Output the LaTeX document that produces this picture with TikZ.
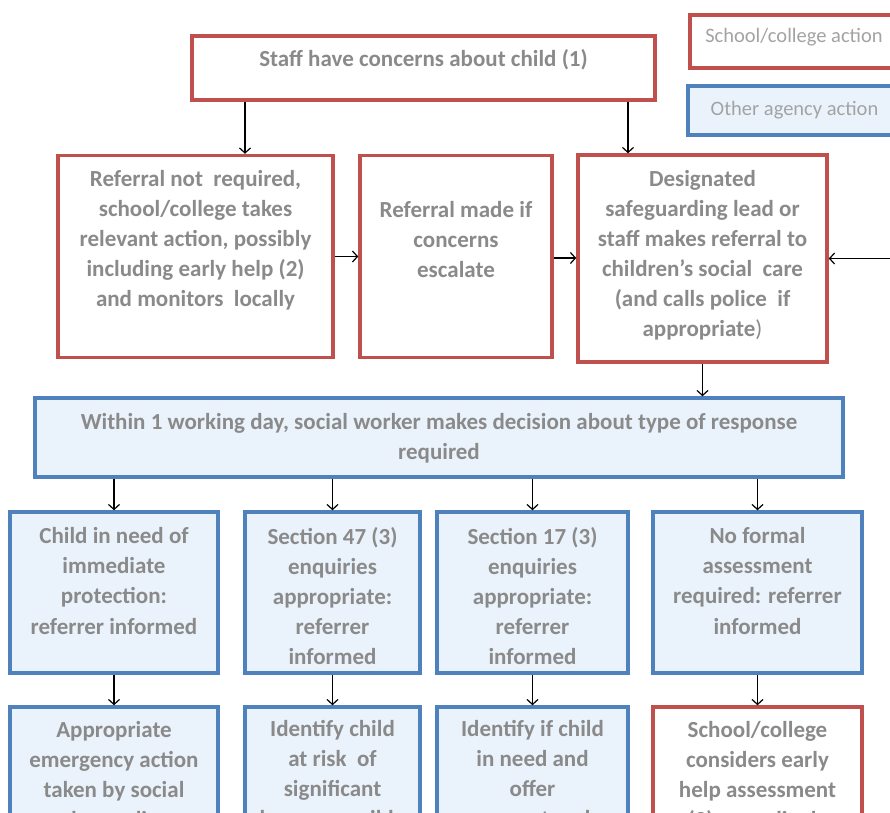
\documentclass[tikz,border=0pt]{standalone}
\usepackage{fontspec}
\setmainfont{Carlito}
\usetikzlibrary{arrows.meta}
\definecolor{schoolred}{HTML}{C0504D}
\definecolor{agencyblue}{HTML}{4F81BD}
\definecolor{agencyfill}{HTML}{EAF3FB}
\definecolor{boxtext}{HTML}{8A8A8A}
\definecolor{legtext}{HTML}{A3A3A3}

\begin{document}
\begin{tikzpicture}[x=1pt,y=-1pt,
  schoolbox/.style={draw=schoolred,line width=3.5pt,fill=white,inner sep=0pt},
  agencybox/.style={draw=agencyblue,line width=3.5pt,fill=agencyfill,inner sep=0pt},
  boxlabel/.style={text=boxtext,font=\bfseries\fontsize{23}{30}\selectfont,align=center,inner sep=0pt},
  leglabel/.style={text=legtext,font=\fontsize{20.5}{22}\selectfont,inner sep=0pt},
  arr/.style={line width=1.2pt,-{Straight Barb[length=5pt,width=11pt]}}]
\useasboundingbox (0,0) rectangle (890,812);
\clip (0,0) rectangle (890,812);
\fill[white] (0,0) rectangle (890,812);

% key
\node[schoolbox,minimum width=215,minimum height=53] (legschool) at (797.5,41.5) {};
\node[leglabel] (legschool-t) at (794,37) {School/college action};
\node[agencybox,minimum width=217,minimum height=49] (legother) at (796.5,110.5) {};
\node[leglabel] (legother-t) at (794.5,110) {Other agency action};

% school / college
\node[schoolbox,minimum width=463,minimum height=64] (staff) at (423.5,68) {};
\node[boxlabel] (staff-t) at (423.5,60) {Staff have concerns about child (1)};

\node[schoolbox,minimum width=275,minimum height=202] (norefer) at (195.5,256.5) {};
\node[boxlabel] (norefer-t) at (195.5,240) {Referral not\ \ required,\\ school/college takes\\ relevant action, possibly\\ including early help (2)\\ and monitors\ \ locally};

\node[schoolbox,minimum width=192,minimum height=202] (escalate) at (456,256.5) {};
\node[boxlabel] (escalate-t) at (456,240) {Referral made if\\ concerns\\ escalate};

\node[schoolbox,minimum width=249,minimum height=207] (dsl) at (702.5,258.5) {};
\node[boxlabel] (dsl-t) at (702.5,255) {Designated\\ safeguarding lead or\\ staff makes referral to\\ children's social\ \ care\\ (and calls police\ \ if\\ appropriate{\mdseries)}};

% social care
\node[agencybox,minimum width=808,minimum height=79] (decide) at (439,437.5) {};
\node[boxlabel] (decide-t) at (439,438) {Within 1 working day, social worker makes decision about type of response\\ required};

\node[agencybox,minimum width=208,minimum height=161] (immed) at (114,592.5) {};
\node[boxlabel] (immed-t) at (114,581) {Child in need of\\ immediate\\ protection:\\ referrer informed};
\node[agencybox,minimum width=175,minimum height=161] (sfortyseven) at (332.5,592.5) {};
\node[boxlabel] (sfortyseven-t) at (332.5,596) {Section 47 (3)\\ enquiries\\ appropriate:\\ referrer\\ informed};
\node[agencybox,minimum width=191,minimum height=161] (sseventeen) at (532.5,592.5) {};
\node[boxlabel] (sseventeen-t) at (532.5,596) {Section 17 (3)\\ enquiries\\ appropriate:\\ referrer\\ informed};
\node[agencybox,minimum width=209,minimum height=161] (noformal) at (757.5,592.5) {};
\node[boxlabel] (noformal-t) at (757.5,581) {No formal\\ assessment\\ required: referrer\\ informed};

\node[agencybox,minimum width=208,minimum height=200] (emerg) at (114,807) {};
\node[boxlabel] (emerg-t) at (114,776) {Appropriate\\ emergency action\\ taken by social\\ worker, police or};
\node[agencybox,minimum width=175,minimum height=200] (sigharm) at (332.5,807) {};
\node[boxlabel] (sigharm-t) at (332.5,775) {Identify child\\ at risk\ \ of\\ significant\\ harm:\ \ possible};
\node[agencybox,minimum width=191,minimum height=200] (cin) at (532.5,807) {};
\node[boxlabel] (cin-t) at (532.5,775) {Identify if child\\ in need and\\ offer\\ support and};
\node[schoolbox,minimum width=209,minimum height=200] (earlyhelp) at (757.5,807) {};
\node[boxlabel] (earlyhelp-t) at (757.5,776) {School/college\\ considers early\\ help assessment\\ (2) accordingly};

\coordinate (fromright) at (895,258.5);

\draw[arr] ([xshift=49.5]norefer.north |- staff.south) -- ([xshift=49.5]norefer.north);
\draw[arr] ([xshift=-74.5]dsl.north |- staff.south) -- ([xshift=-74.5]dsl.north);
\draw[arr] (norefer.east) -- (escalate.west);
\draw[arr] ([yshift=-1.5]escalate.east) -- ([yshift=-1.5]escalate.east -| dsl.west);
\draw[arr] (fromright) -- (dsl.east);
\draw[arr] (dsl.south) -- (dsl.south |- decide.north);

\foreach \upper/\lower in {immed/emerg,sfortyseven/sigharm,sseventeen/cin,noformal/earlyhelp}{
  \draw[arr] (\upper.north |- decide.south) -- (\upper.north);
  \draw[arr] (\upper.south) -- (\lower.north);
}
\end{tikzpicture}
\end{document}
